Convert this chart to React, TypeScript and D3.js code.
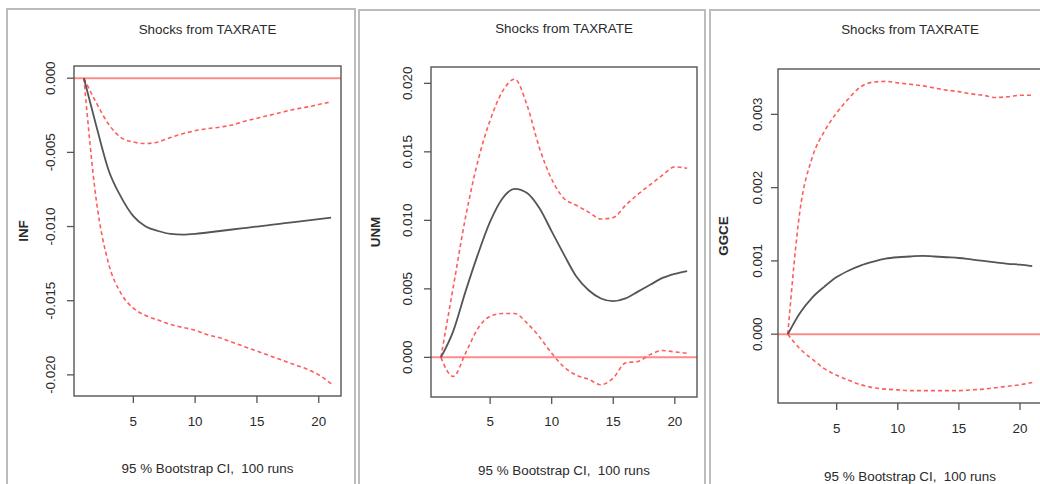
import React from 'react';
import * as d3 from 'd3';

const horizons = [1, 2, 3, 4, 5, 6, 7, 8, 9, 10, 11, 12, 13, 14, 15, 16, 17, 18, 19, 20, 21];
const xTicks = [5, 10, 15, 20];
const titleText = 'Shocks from TAXRATE';
const subtitleText = '95 % Bootstrap CI,  100 runs';

// INF response
const infIrf = [0, -0.0032, -0.0062, -0.008, -0.0093, -0.01, -0.0103, -0.0105, -0.01055, -0.0105, -0.0104, -0.0103, -0.0102, -0.0101, -0.01, -0.0099, -0.0098, -0.0097, -0.0096, -0.0095, -0.0094];
const infUpper = [0, -0.00165, -0.0031, -0.004, -0.0043, -0.0044, -0.0043, -0.004, -0.00374, -0.00354, -0.0034, -0.0033, -0.00315, -0.0029, -0.0027, -0.0025, -0.0023, -0.0021, -0.00195, -0.00177, -0.00159];
const infLower = [0, -0.0082, -0.0125, -0.0145, -0.0155, -0.016, -0.0163, -0.0166, -0.0168, -0.017, -0.0173, -0.0175, -0.0178, -0.0181, -0.0184, -0.0187, -0.019, -0.0193, -0.0196, -0.02, -0.0206];
const infTicks = [0, -0.005, -0.01, -0.015, -0.02];

// UNM response
const unmIrf = [0, 0.0019, 0.0048, 0.0075, 0.0099, 0.0116, 0.0123, 0.012, 0.0109, 0.0092, 0.0075, 0.0059, 0.0049, 0.0043, 0.0041, 0.0043, 0.0048, 0.0053, 0.0058, 0.0061, 0.0063];
const unmUpper = [0, 0.0051, 0.0102, 0.0143, 0.0173, 0.0194, 0.0203, 0.0184, 0.0153, 0.013, 0.0116, 0.0111, 0.0106, 0.0101, 0.0102, 0.0111, 0.0119, 0.0126, 0.0133, 0.0139, 0.0138];
const unmLower = [0, -0.0014, 0.0003, 0.0021, 0.003, 0.0032, 0.0032, 0.0025, 0.0015, 0.0003, -0.0007, -0.0013, -0.0016, -0.002, -0.0015, -0.0004, -0.0003, 0.0002, 0.0005, 0.0004, 0.0003];
const unmTicks = [0, 0.005, 0.01, 0.015, 0.02];

// GGCE response
const ggceIrf = [0, 0.00029, 0.0005, 0.00065, 0.00078, 0.00087, 0.00094, 0.00099, 0.00103, 0.00105, 0.00106, 0.00107, 0.00106, 0.00105, 0.00104, 0.00102, 0.001, 0.00098, 0.00096, 0.00095, 0.00093];
const ggceUpper = [0, 0.00169, 0.00241, 0.00277, 0.00302, 0.00322, 0.00338, 0.00344, 0.00345, 0.00343, 0.00341, 0.00339, 0.00336, 0.00333, 0.00331, 0.00328, 0.00326, 0.00323, 0.00324, 0.00326, 0.00326];
const ggceLower = [0, -0.0002, -0.00034, -0.00047, -0.00056, -0.00063, -0.00069, -0.00073, -0.00075, -0.00076, -0.00077, -0.00077, -0.00077, -0.00077, -0.00077, -0.00076, -0.00075, -0.00073, -0.00071, -0.00069, -0.00066];
const ggceTicks = [0, 0.001, 0.002, 0.003];

const variableNames = ['INF', 'UNM', 'GGCE'];

interface Layout {
  frameX: number; frameY: number; frameW: number;
  left: number; top: number; right: number; bottom: number;
  titleY: number; xLabY: number; subY: number; yNameX: number; yLabX: number;
}

const layouts: Layout[] = [
  { frameX: 7, frameY: 9, frameW: 348, left: 74, top: 66, right: 341, bottom: 396, titleY: 29, xLabY: 421, subY: 468, yNameX: 23, yLabX: 50 },
  { frameX: 359, frameY: 10, frameW: 346, left: 431, top: 67, right: 697, bottom: 397, titleY: 28, xLabY: 421, subY: 470, yNameX: 375, yLabX: 407 },
  { frameX: 710, frameY: 10, frameW: 360, left: 778, top: 69, right: 1042, bottom: 403, titleY: 29, xLabY: 428, subY: 476, yNameX: 723, yLabX: 757 },
];

const FONT = '"Liberation Sans", Arial, Helvetica, sans-serif';
const FS = 13.4;

function fmt(v: number) {
  return Math.abs(v) < 1e-12 ? '0.000' : v.toFixed(3);
}

function Panel({ L, name, irf, upper, lower, yTicks }: { L: Layout; name: string; irf: number[]; upper: number[]; lower: number[]; yTicks: number[] }) {
  const x = d3.scaleLinear().domain([0.2, 21.8]).range([L.left, L.right]);
  const all = [...irf, ...upper, ...lower];
  const lo = d3.min(all)!;
  const hi = d3.max(all)!;
  const pad = (hi - lo) * 0.04;
  const y = d3.scaleLinear().domain([lo - pad, hi + pad]).range([L.bottom, L.top]);
  const line = d3.line<number>().x((_, i) => x(horizons[i])).y((d) => y(d)).curve(d3.curveMonotoneX);
  const cx = (L.left + L.right) / 2;
  const cy = (L.top + L.bottom) / 2;
  return (
    <g>
      <rect x={L.frameX} y={L.frameY} width={L.frameW} height={600} fill="none" stroke="#bcbcbc" strokeWidth={2} />
      <text x={cx} y={L.titleY} textAnchor="middle" dominantBaseline="central" fontFamily={FONT} fontSize={FS} fill="#2a2a2a">{titleText}</text>
      <line x1={L.left} x2={L.right} y1={y(0)} y2={y(0)} stroke="#ff8a8a" strokeWidth={2} />
      <path d={line(upper)!} fill="none" stroke="#ff5c5c" strokeWidth={1.6} strokeDasharray="4 3" />
      <path d={line(lower)!} fill="none" stroke="#ff5c5c" strokeWidth={1.6} strokeDasharray="4 3" />
      <path d={line(irf)!} fill="none" stroke="#555" strokeWidth={1.8} />
      <rect x={L.left} y={L.top} width={L.right - L.left} height={L.bottom - L.top} fill="none" stroke="#555" strokeWidth={1.4} />
      {xTicks.map((t) => (
        <g key={t}>
          <line x1={x(t)} x2={x(t)} y1={L.bottom} y2={L.bottom + 7} stroke="#555" strokeWidth={1.3} />
          <text x={x(t)} y={L.xLabY} textAnchor="middle" dominantBaseline="central" fontFamily={FONT} fontSize={FS} fill="#2a2a2a">{t}</text>
        </g>
      ))}
      {yTicks.map((t) => (
        <g key={t}>
          <line x1={L.left - 7} x2={L.left} y1={y(t)} y2={y(t)} stroke="#555" strokeWidth={1.3} />
          <text transform={`translate(${L.yLabX},${y(t)}) rotate(-90)`} textAnchor="middle" dominantBaseline="central" fontFamily={FONT} fontSize={FS} fill="#2a2a2a">{fmt(t)}</text>
        </g>
      ))}
      <text transform={`translate(${L.yNameX},${cy}) rotate(-90)`} textAnchor="middle" dominantBaseline="central" fontFamily={FONT} fontSize={FS} fontWeight="bold" fill="#2a2a2a">{name}</text>
      <text x={cx} y={L.subY} textAnchor="middle" dominantBaseline="central" fontFamily={FONT} fontSize={FS} fill="#2a2a2a" style={{ whiteSpace: 'pre' }}>{subtitleText}</text>
    </g>
  );
}

export default function App() {
  return (
    <svg width={1040} height={484} style={{ position: 'absolute', left: 0, top: 0, background: '#fff' }}>
      <rect x={0} y={0} width={1040} height={484} fill="#fff" />
      <Panel L={layouts[0]} name={variableNames[0]} irf={infIrf} upper={infUpper} lower={infLower} yTicks={infTicks} />
      <Panel L={layouts[1]} name={variableNames[1]} irf={unmIrf} upper={unmUpper} lower={unmLower} yTicks={unmTicks} />
      <Panel L={layouts[2]} name={variableNames[2]} irf={ggceIrf} upper={ggceUpper} lower={ggceLower} yTicks={ggceTicks} />
    </svg>
  );
}
